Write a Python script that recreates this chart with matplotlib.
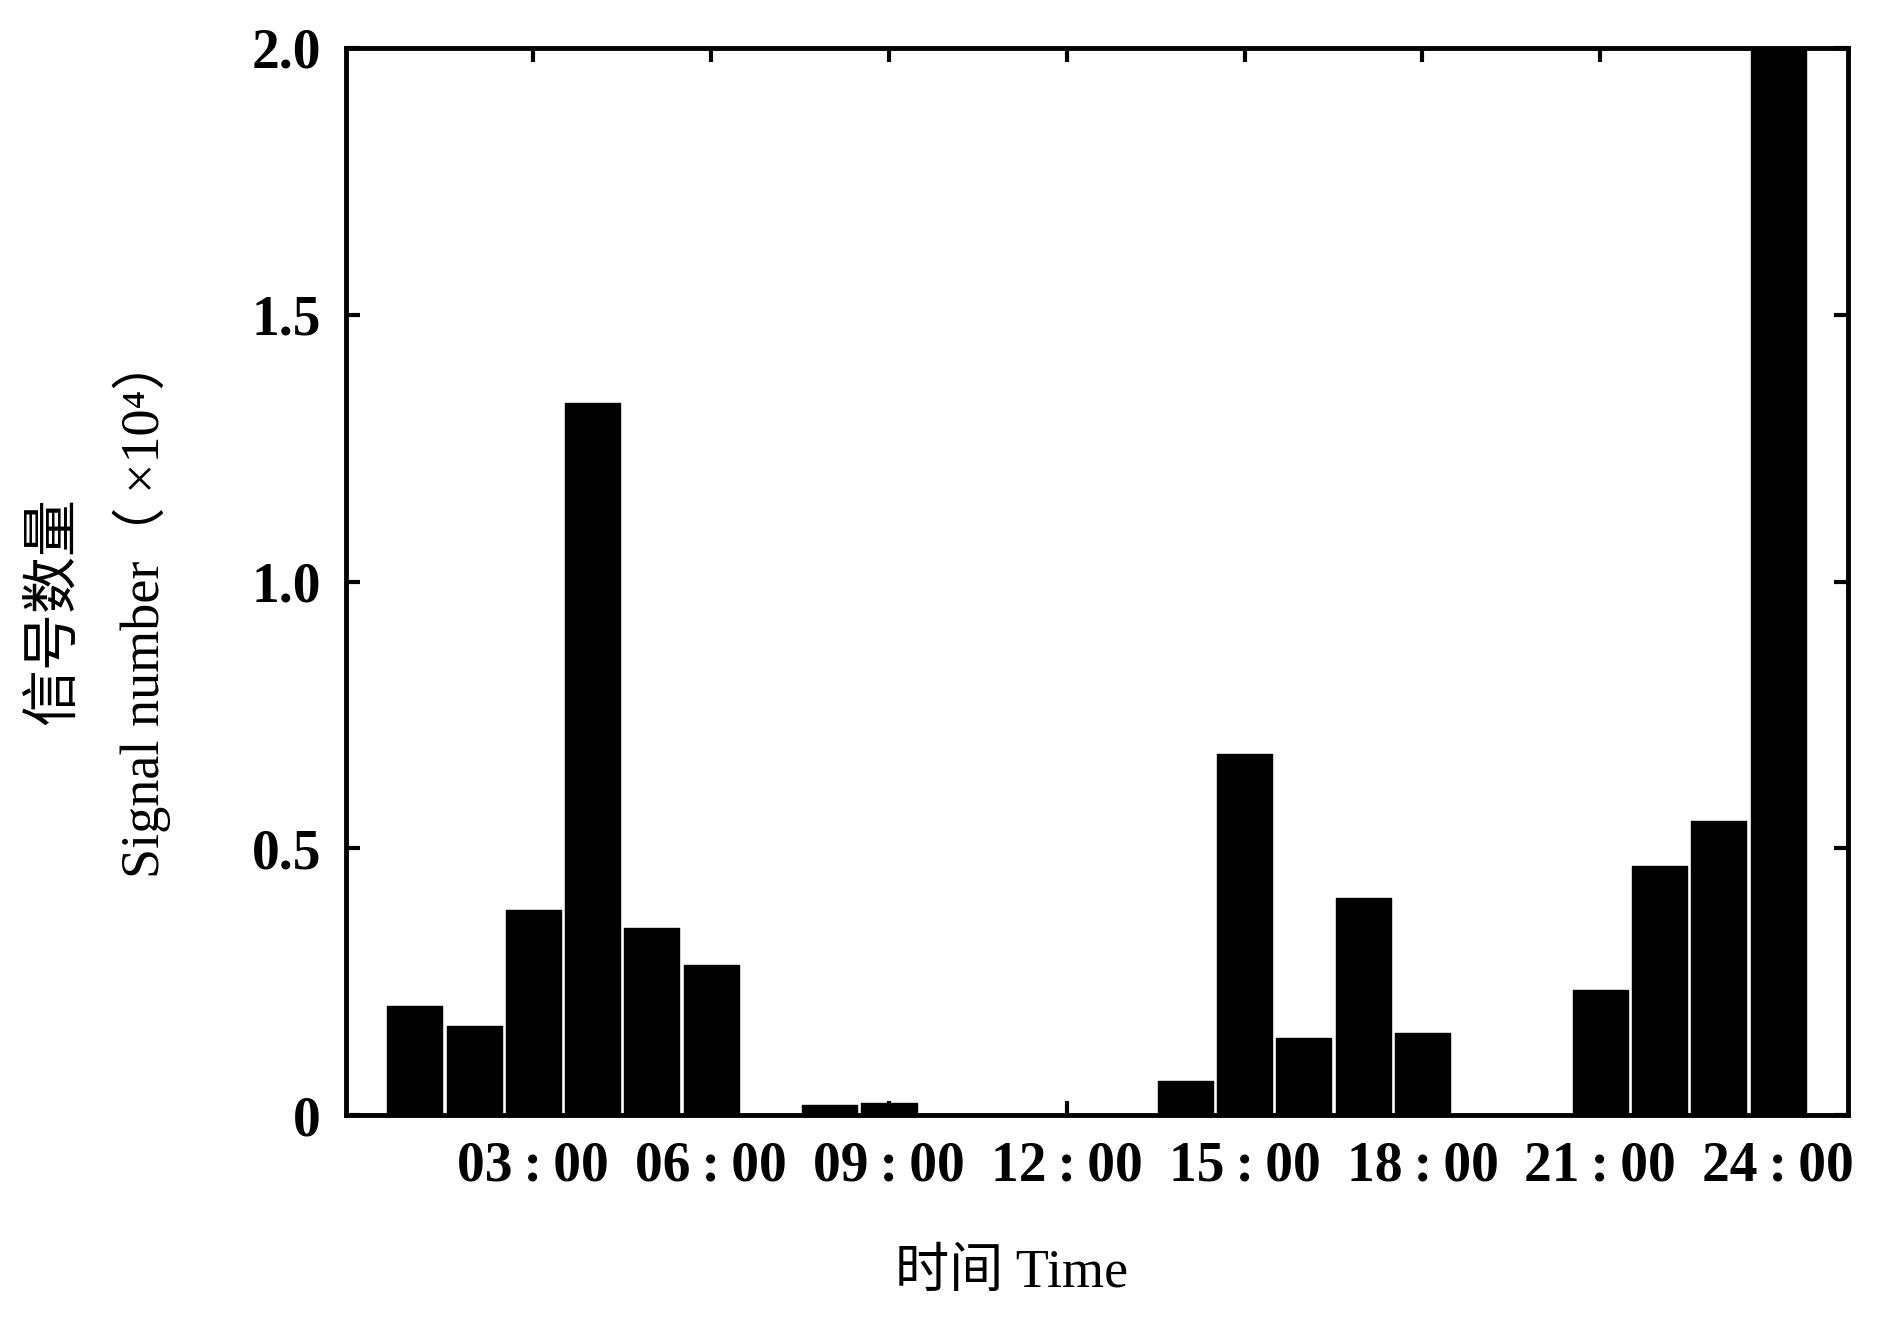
import matplotlib
matplotlib.use("Agg")
import matplotlib.pyplot as plt

plt.rcParams['font.family'] = ['Liberation Serif', 'Noto Sans CJK SC', 'DejaVu Sans']

hours = list(range(1, 25))
signals = [0.204, 0.167, 0.385, 1.335, 0.351, 0.281, 0.0, 0.018, 0.023, 0.0,
           0.0, 0.0, 0.0, 0.063, 0.676, 0.145, 0.407, 0.154, 0.0, 0.0,
           0.235, 0.466, 0.552, 2.3]
xticks = [3, 6, 9, 12, 15, 18, 21, 24]
xticklabels = ["03\u2009:\u200900", "06\u2009:\u200900", "09\u2009:\u200900",
               "12\u2009:\u200900", "15\u2009:\u200900", "18\u2009:\u200900",
               "21\u2009:\u200900", "24\u2009:\u200900"]
yticks = [0, 0.5, 1.0, 1.5, 2.0]
yticklabels = ["0", "0.5", "1.0", "1.5", "2.0"]

fig = plt.figure(figsize=(18.9, 13.37), dpi=100)
ax = fig.add_axes([0.1831, 0.1660, 0.9778 - 0.1831, 0.9641 - 0.1660])

ax.bar(hours, signals, width=0.93, color='black', edgecolor='black',
       linewidth=1.0, joinstyle='round')

ax.set_xlim(-0.16, 25.18)
ax.set_ylim(0, 2.0)
ax.set_xticks(xticks)
ax.set_xticklabels(xticklabels)
ax.set_yticks(yticks)
ax.set_yticklabels(yticklabels)

for s in ax.spines.values():
    s.set_linewidth(3.5)
    s.set_zorder(5)

ax.tick_params(axis='both', which='both', direction='in', length=10, width=3,
               top=True, right=True, labelsize=40, pad=18)
for lab in ax.get_xticklabels() + ax.get_yticklabels():
    lab.set_fontweight('bold')

fam = ['Liberation Serif', 'Noto Sans CJK SC', 'DejaVu Sans']
fig.text(0.029, 0.543, "信号数量", rotation=90, ha='center', va='center',
         fontsize=41, family=fam, fontweight='medium')
fig.text(0.075, 0.546, "Signal number（ ×10\u2074）", rotation=90, ha='center',
         va='center', fontsize=39, family=fam)
fig.text(0.535, 0.047, "时间 Time", ha='center', va='center', fontsize=39,
         family=fam, fontweight='medium')

fig.savefig("out.png", dpi=100)
